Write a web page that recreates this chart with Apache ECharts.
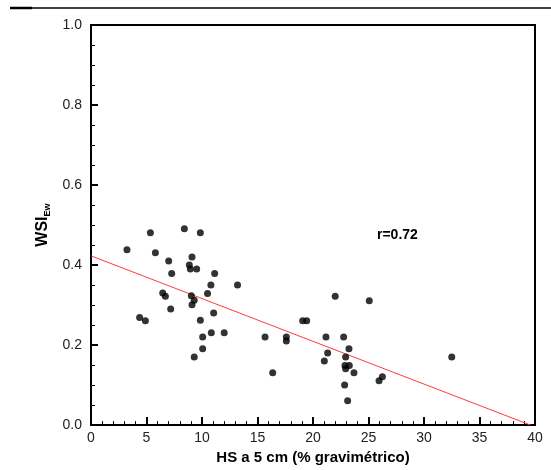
<!DOCTYPE html>
<html><head><meta charset="utf-8">
<script src="https://cdn.jsdelivr.net/npm/echarts@6/dist/echarts.min.js"></script>
<style>html,body{margin:0;padding:0;background:#fff}#c{width:551px;height:470px}</style>
</head><body><div id="c"></div>
<script>
const hsValues = [3.24,5.35,5.8,8.41,9.85,7.0,7.27,9.1,8.86,8.95,9.52,11.14,10.8,10.5,6.46,6.7,9.04,9.3,9.1,7.18,11.05,4.38,4.9,9.85,10.06,10.84,12.0,10.06,9.3,13.2,
  15.68,16.37,17.6,17.6,19.07,19.43,22.0,25.07,21.17,21.32,21.02,22.76,23.24,22.94,22.88,23.27,22.94,23.69,22.85,23.12,25.95,26.25,32.5];
const wsiValues = [0.438,0.481,0.431,0.491,0.481,0.410,0.379,0.420,0.400,0.390,0.390,0.379,0.350,0.329,0.330,0.322,0.323,0.312,0.301,0.290,0.280,0.269,0.261,0.262,0.220,0.231,0.231,0.191,0.170,0.350,
  0.220,0.131,0.220,0.210,0.261,0.261,0.322,0.311,0.220,0.180,0.160,0.220,0.191,0.170,0.149,0.149,0.141,0.131,0.100,0.061,0.111,0.121,0.170];
const fitLineX = [0, 39.6];
const fitLineY = [0.423, 0.0];
const annotation = 'r=0.72';
const xName = 'HS a 5 cm (% gravimétrico)';

const chart = echarts.init(document.getElementById('c'));
const font = '"Liberation Sans", Arial, sans-serif';
chart.setOption({
  animation: false,
  grid: {left: 91, right: 16, top: 25, bottom: 38, show: true, borderColor: '#000', borderWidth: 2, backgroundColor: 'transparent'},
  xAxis: {
    type: 'value', min: 0, max: 40, interval: 5,
    name: xName, nameLocation: 'middle', nameGap: 24,
    nameTextStyle: {fontFamily: font, fontSize: 15, fontWeight: 'bold', color: '#000'},
    axisLine: {show: true, lineStyle: {color: '#000', width: 2}},
    axisTick: {show: true, inside: true, length: 8, lineStyle: {color: '#000', width: 2}},
    minorTick: {show: true, splitNumber: 5, length: 4, lineStyle: {color: '#000', width: 1}},
    splitLine: {show: false},
    axisLabel: {fontFamily: font, fontSize: 14, color: '#222', margin: 6}
  },
  yAxis: {
    type: 'value', min: 0, max: 1, interval: 0.2,
    name: '{a|WSI}{b|Ew}', nameLocation: 'middle', nameGap: 33, nameRotate: 90,
    nameTextStyle: {rich: {
      a: {fontFamily: font, fontSize: 16, fontWeight: 'bold', color: '#000'},
      b: {fontFamily: font, fontSize: 9, fontWeight: 'bold', color: '#000', padding: [10, 0, 0, 0], verticalAlign: 'bottom'}
    }},
    axisLine: {show: true, lineStyle: {color: '#000', width: 2}},
    axisTick: {show: true, inside: true, length: 7, lineStyle: {color: '#000', width: 2}},
    minorTick: {show: true, splitNumber: 4, length: 4, lineStyle: {color: '#000', width: 1}},
    splitLine: {show: false},
    axisLabel: {fontFamily: font, fontSize: 14, color: '#222', margin: 9, formatter: v => v.toFixed(1)}
  },
  series: [
    {type: 'line', data: fitLineX.map((x, i) => [x, fitLineY[i]]), symbol: 'none',
     lineStyle: {color: '#ff3b3b', width: 1}, z: 2},
    {type: 'scatter', data: hsValues.map((x, i) => [x, wsiValues[i]]), symbol: 'circle', symbolSize: 7,
     itemStyle: {color: '#000'}, z: 3}
  ],
  graphic: [
    {type: 'line', shape: {x1: 10, y1: 8, x2: 551, y2: 8}, style: {stroke: '#000', lineWidth: 1.5}},
    {type: 'line', shape: {x1: 10, y1: 8, x2: 32, y2: 8}, style: {stroke: '#000', lineWidth: 2.5}},
    {type: 'text', left: 377, top: 228, style: {text: annotation, font: 'bold 14px ' + font, fill: '#000'}}
  ]
});
</script></body></html>
